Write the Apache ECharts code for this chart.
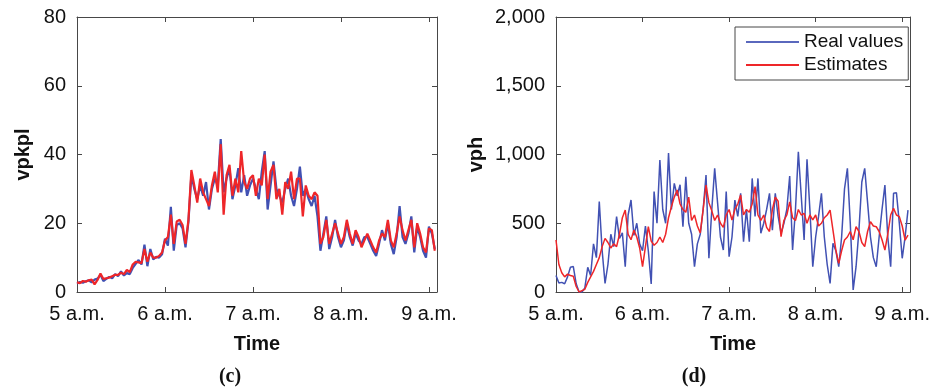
<!DOCTYPE html>
<html>
<head>
<meta charset="utf-8">
<script src="https://cdn.jsdelivr.net/npm/echarts@6/dist/echarts.min.js"></script>
<style>
  html, body { margin: 0; padding: 0; background: #fff; }
  #chart { width: 933px; height: 389px; }
</style>
</head>
<body>
<div id="chart"></div>
<script>
// Samples every 2 minutes starting at 5:00 a.m.
const SAMPLE_STEP_MIN = 2;
const HOUR_LABELS = ['5 a.m.', '6 a.m.', '7 a.m.', '8 a.m.', '9 a.m.'];
const SERIES_NAMES = ['Real values', 'Estimates'];

// Density (vpkpl)
const densityReal = [
  2.5, 2.9, 2.7, 3.1, 3.4, 2.8, 3.6, 3.9, 5.0, 3.2,
  3.8, 4.4, 4.0, 5.2, 4.6, 6.0, 4.8, 5.5, 5.2, 7.0,
  8.2, 9.3, 8.0, 13.8, 7.5, 12.5, 9.5, 10.2, 10.0, 11.0,
  15.5, 13.5, 24.8, 12.0, 19.5, 20.0, 18.5, 13.0, 20.5, 34.0,
  30, 27, 31, 28, 32, 24, 30, 33, 31, 44.5,
  29, 33, 36, 27, 31, 36, 29, 34, 28, 31,
  33, 30, 27, 35, 41, 24, 31, 38, 30, 28,
  26, 30, 33, 28, 25, 30, 36.5, 28, 30, 27,
  25, 28, 22, 12, 17, 22, 12.5, 16, 21, 16,
  13, 15, 20, 16, 13.5, 17, 15, 14, 16, 16,
  14, 12, 10.5, 14, 18, 15, 20, 14, 11, 16,
  25, 16, 14, 17, 22, 11.5, 19, 16, 12, 10,
  19, 17, 12.5
];
const densityEstimate = [
  2.8, 2.6, 3.2, 3.0, 3.4, 3.6, 2.2, 3.5, 5.4, 3.8,
  4.0, 4.2, 4.6, 5.0, 5.0, 5.6, 5.2, 6.4, 5.8, 8.0,
  8.8, 8.6, 8.4, 12.5, 8.8, 11.5, 10.0, 10.0, 10.5, 11.5,
  15.0, 16.0, 22.5, 14.0, 20.5, 21.0, 19.5, 14.0, 21.0, 35.5,
  31, 26, 33, 29, 27, 25, 31, 35, 29, 43,
  22.5, 34, 37, 28, 33, 29, 41, 32, 30, 33,
  34, 28, 33, 31, 40, 27, 35, 37, 27, 30,
  22.5, 32, 30, 35, 27, 33, 33, 22, 31, 28,
  27, 29, 28, 14, 16, 21, 14, 17, 20, 17,
  14, 16, 21, 17, 14, 18, 16, 13, 15, 17,
  15, 13, 11.5, 15, 17, 16, 21, 15, 13, 17,
  22, 18, 15, 18, 21, 13, 20, 17, 13, 11.5,
  18.5, 18, 12
];

// Flow (vph)
const flowReal = [
  120, 65, 70, 60, 110, 180, 185, 60, 0, 0,
  30, 180, 120, 350, 250, 657, 300, 63, 200, 420,
  330, 548, 390, 430, 184, 560, 669, 412, 500, 350,
  300, 480, 300, 58, 730, 500, 960, 600, 500, 1010,
  600, 790, 700, 780, 475, 838, 500, 420, 184, 350,
  420, 600, 850, 245, 600, 899, 650, 400, 305, 730,
  257, 400, 669, 550, 718, 366, 600, 366, 826, 550,
  826, 427, 500, 600, 718, 450, 718, 550, 427, 500,
  600, 844, 305, 600, 1020, 700, 378, 965, 600, 184,
  400, 550, 718, 400, 200, 63, 354, 300, 184, 400,
  750, 899, 500, 15, 184, 450, 800, 899, 650, 400,
  250, 184, 400, 600, 778, 400, 184, 718, 722, 500,
  245, 400, 596
];
const flowEstimate = [
  378, 200, 140, 110, 130, 120, 115, 40, 0, 10,
  20, 70, 110, 150, 200, 250, 330, 390, 360, 320,
  350, 330, 420, 540, 596, 420, 380, 450, 400, 320,
  184, 330, 475, 370, 340, 360, 400, 360, 420, 540,
  620, 690, 742, 640, 600, 580, 690, 520, 560, 480,
  430, 600, 778, 650, 590, 520, 560, 500, 470, 560,
  600, 524, 600, 640, 705, 560, 600, 580, 640, 766,
  560, 520, 560, 470, 440, 600, 690, 660, 402, 520,
  560, 656, 540, 520, 600, 560, 572, 500, 560, 524,
  560, 480, 500, 540, 560, 596, 450, 305, 208, 300,
  378, 400, 440, 380, 475, 440, 360, 330, 440, 512,
  480, 475, 440, 380, 305, 420, 560, 608, 560, 548,
  480, 378, 414
];

const BLUE = '#4151b3';
const RED = '#ee2629';
const FRAME = '#474747';
const TEXT = '#111';
const FONT = '"Liberation Sans", Arial, sans-serif';

function pairs(values) {
  return values.map((v, i) => [i * SAMPLE_STEP_MIN, v]);
}
function withCommas(v) {
  return String(v).replace(/\B(?=(\d{3})+(?!\d))/g, ',');
}

function xAxes(gridIndex) {
  const base = {
    gridIndex, type: 'value', min: 0, max: 245.5, interval: 60,
    splitLine: { show: false },
    axisLine: { show: true, onZero: false, lineStyle: { color: FRAME, width: 1 } },
    axisTick: { show: true, inside: true, length: 5, lineStyle: { color: FRAME } }
  };
  return [
    Object.assign({}, base, {
      position: 'bottom',
      axisLabel: {
        show: true, margin: 12, fontSize: 20, fontFamily: FONT, color: TEXT,
        showMaxLabel: false,
        formatter: v => HOUR_LABELS[v / 60] || ''
      },
      name: 'Time', nameLocation: 'middle', nameGap: 42,
      nameTextStyle: { fontSize: 20, fontWeight: 'bold', fontFamily: FONT, color: TEXT }
    }),
    Object.assign({}, base, { position: 'top', axisLabel: { show: false } })
  ];
}

function yAxes(gridIndex, max, interval, name, nameGap, fmt) {
  const base = {
    gridIndex, type: 'value', min: 0, max, interval,
    splitLine: { show: false },
    axisLine: { show: true, onZero: false, lineStyle: { color: FRAME, width: 1 } },
    axisTick: { show: true, inside: true, length: 5, lineStyle: { color: FRAME } }
  };
  return [
    Object.assign({}, base, {
      position: 'left',
      axisLabel: { show: true, margin: 11, fontSize: 20, fontFamily: FONT, color: TEXT, formatter: fmt },
      name, nameLocation: 'middle', nameGap, nameRotate: 90,
      nameTextStyle: { fontSize: 20, fontWeight: 'bold', fontFamily: FONT, color: TEXT }
    }),
    Object.assign({}, base, { position: 'right', axisLabel: { show: false } })
  ];
}

function line(name, values, color, width, xi, yi) {
  return {
    name, type: 'line', data: pairs(values), xAxisIndex: xi, yAxisIndex: yi,
    symbol: 'none', smooth: false, animation: false,
    lineStyle: { color, width }, itemStyle: { color }
  };
}

const chart = echarts.init(document.getElementById('chart'), null, { renderer: 'canvas' });
chart.setOption({
  backgroundColor: '#fff',
  animation: false,
  grid: [
    { left: 77, top: 17, width: 360, height: 275 },
    { left: 556, top: 17, width: 361, height: 275 }
  ],
  xAxis: [...xAxes(0), ...xAxes(1)],
  yAxis: [
    ...yAxes(0, 80, 20, 'vpkpl', 44, v => String(v)),
    ...yAxes(1, 2000, 500, 'vph', 70, withCommas)
  ],
  legend: {
    data: [
      { name: SERIES_NAMES[0], itemStyle: { color: '#5a68bd' } },
      { name: SERIES_NAMES[1], itemStyle: { color: RED } }
    ],
    orient: 'vertical',
    left: 735, top: 27,
    icon: 'rect',
    itemWidth: 53, itemHeight: 2, itemGap: 1,
    padding: [4, 5, 4, 11],
    borderColor: FRAME, borderWidth: 1, backgroundColor: '#fff',
    textStyle: { fontSize: 19, lineHeight: 22, fontFamily: FONT, color: TEXT }
  },
  series: [
    line(SERIES_NAMES[0], densityReal, BLUE, 2.2, 0, 0),
    line(SERIES_NAMES[1], densityEstimate, RED, 2.2, 0, 0),
    line(SERIES_NAMES[0], flowReal, BLUE, 1.5, 2, 2),
    line(SERIES_NAMES[1], flowEstimate, RED, 1.5, 2, 2)
  ],
  graphic: [
    { type: 'text', x: 230, y: 377, style: { text: '(c)', font: 'bold 20px "Liberation Serif", serif', fill: TEXT, textAlign: 'center', textVerticalAlign: 'middle' } },
    { type: 'text', x: 694, y: 377, style: { text: '(d)', font: 'bold 20px "Liberation Serif", serif', fill: TEXT, textAlign: 'center', textVerticalAlign: 'middle' } }
  ]
});
</script>
</body>
</html>
